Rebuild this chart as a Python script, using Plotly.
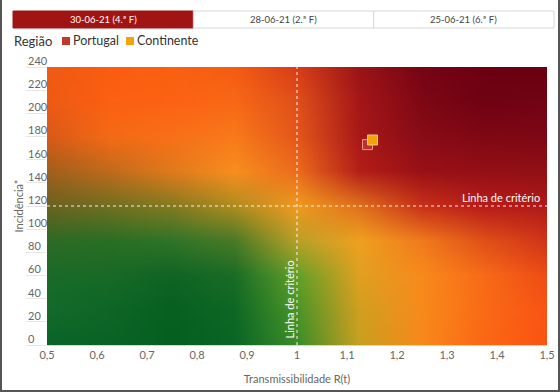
import base64
import struct
import zlib

import plotly.graph_objects as go

# ---------------- data ----------------
SERIES = ["Portugal", "Continente"]
RT = [1.141, 1.151]
INCIDENCIA = [173, 177]
SERIES_COLORS = ["rgba(200,55,55,0.75)", "#f0a30a"]
SERIES_LINE = ["rgba(245,160,160,0.9)", "rgba(255,215,140,0.9)"]
LEGEND_COLORS = ["#c0392b", "#f0a30a"]
LEGEND_TITLE = "Região"

TABS = ["30-06-21 (4.ª F)", "28-06-21 (2.ª F)", "25-06-21 (6.ª F)"]
ACTIVE_TAB = 0

CRITERIO_RT = 1.0
CRITERIO_INC = 120

X_TICKS = [0.5, 0.6, 0.7, 0.8, 0.9, 1.0, 1.1, 1.2, 1.3, 1.4, 1.5]
X_TICK_LABELS = ["0,5", "0,6", "0,7", "0,8", "0,9", "1", "1,1", "1,2", "1,3", "1,4", "1,5"]
Y_TICKS = [0, 20, 40, 60, 80, 100, 120, 140, 160, 180, 200, 220, 240]
Y_TICK_LABELS = [str(v) for v in Y_TICKS]

# background risk gradient (style only): colours sampled on a 9x9 grid,
# columns R = 0.5 .. 1.5 (step 0.125), rows incidence 240 .. 0 (step 30)
BG_COLORS = [
    ["f05a12", "fa5c10", "fa6010", "f45c12", "d83c18", "9a1416", "760414", "6c0012", "6a0010"],
    ["ee5a14", "fc6012", "fd6214", "f86816", "e0501a", "a41618", "7e0814", "700212", "720414"],
    ["d85a18", "f46a16", "f87018", "f87a1a", "e4561a", "a81818", "880c16", "800814", "7e0814"],
    ["a0601c", "c06a1c", "e07a1c", "f88e1e", "ec6c1c", "b41e18", "9a1016", "941016", "921016"],
    ["6a6220", "707020", "847a20", "b08c20", "f09a20", "e0701c", "c83018", "b81c18", "b01a18"],
    ["2e6a26", "2a6e24", "307428", "4a7a26", "b8a028", "f0a020", "f07a1c", "e05018", "d03418"],
    ["1a6a28", "186a26", "106424", "1a6c26", "60a028", "e0a020", "f88a1c", "f86a18", "ee4c14"],
    ["146a28", "0e6626", "066020", "0e6824", "4a9428", "d0a020", "f88a1a", "fa6a16", "f85414"],
    ["0a6428", "0a6226", "056020", "0a6624", "3a8c28", "c8a020", "f8881a", "fc6614", "fa5412"],
]
X_MIN, X_MAX = 0.5, 1.5
Y_MIN, Y_MAX = 0, 240
BG_SMOOTH = 8  # sub-steps per grid cell for the background texture


def smooth_texture(rows, k):
    """Blend the colour grid into a finer texture (avoids browser banding)."""
    grid = [[tuple(bytes.fromhex(c)) for c in row] for row in rows]
    nr, nc = len(grid), len(grid[0])
    out = []
    for i in range((nr - 1) * k + 1):
        r0 = min(i // k, nr - 2)
        fy = i / k - r0
        line = []
        for j in range((nc - 1) * k + 1):
            c0 = min(j // k, nc - 2)
            fx = j / k - c0
            px = []
            for ch in range(3):
                a = grid[r0][c0][ch] * (1 - fx) + grid[r0][c0 + 1][ch] * fx
                b = grid[r0 + 1][c0][ch] * (1 - fx) + grid[r0 + 1][c0 + 1][ch] * fx
                px.append(int(round(a * (1 - fy) + b * fy)))
            line.append(bytes(px))
        out.append(line)
    return out


def png_uri(pixels):
    h = len(pixels)
    w = len(pixels[0])
    raw = b"".join(b"\x00" + b"".join(row) for row in pixels)

    def chunk(tag, data):
        return (struct.pack(">I", len(data)) + tag + data
                + struct.pack(">I", zlib.crc32(tag + data) & 0xFFFFFFFF))

    png = (b"\x89PNG\r\n\x1a\n"
           + chunk(b"IHDR", struct.pack(">IIBBBBB", w, h, 8, 2, 0, 0, 0))
           + chunk(b"IDAT", zlib.compress(raw, 9))
           + chunk(b"IEND", b""))
    return "data:image/png;base64," + base64.b64encode(png).decode()


# ---------------- layout geometry ----------------
WIDTH, HEIGHT = 560, 392
ML, MR, MT, MB = 47, 13, 67, 47
PW = WIDTH - ML - MR
PH = HEIGHT - MT - MB


def px_x(px):
    return (px - ML) / PW


def px_y(py):
    return (HEIGHT - MB - py) / PH


FONT = "Lato, 'Open Sans', sans-serif"

fig = go.Figure()

for name, x, y, c, lc in zip(SERIES, RT, INCIDENCIA, SERIES_COLORS, SERIES_LINE):
    fig.add_trace(go.Scatter(
        x=[x], y=[y], mode="markers", name=name,
        marker=dict(symbol="square", size=10, color=c, line=dict(color=lc, width=1)),
        hovertemplate=name + "<br>R(t): %{x}<br>Incidência: %{y}<extra></extra>",
    ))

# background gradient image, pixel centres on the grid points
tex = smooth_texture(BG_COLORS, BG_SMOOTH)
ncol = len(tex[0])
nrow = len(tex)
dx = (X_MAX - X_MIN) / (ncol - 1)
dy = (Y_MAX - Y_MIN) / (nrow - 1)
fig.add_layout_image(dict(
    source=png_uri(tex), xref="x", yref="y",
    x=X_MIN - dx / 2, y=Y_MAX + dy / 2,
    sizex=(X_MAX - X_MIN) + dx, sizey=(Y_MAX - Y_MIN) + dy,
    sizing="stretch", layer="below", xanchor="left", yanchor="top",
))

shapes = []
annotations = []

# criterion lines
shapes.append(dict(type="line", xref="x", yref="y", x0=CRITERIO_RT, x1=CRITERIO_RT,
                   y0=Y_MIN, y1=Y_MAX, line=dict(color="rgba(255,255,255,0.9)", width=1, dash="dot")))
shapes.append(dict(type="line", xref="x", yref="y", x0=X_MIN, x1=X_MAX,
                   y0=CRITERIO_INC, y1=CRITERIO_INC,
                   line=dict(color="rgba(255,255,255,0.9)", width=1, dash="dot")))
annotations.append(dict(text="Linha de critério", xref="paper", yref="y", x=px_x(542),
                        y=CRITERIO_INC, xanchor="right", yanchor="bottom", showarrow=False,
                        font=dict(family=FONT, size=11, color="white")))
annotations.append(dict(text="Linha de critério", xref="x", yref="paper", x=CRITERIO_RT,
                        y=px_y(341), xanchor="right", yanchor="bottom", showarrow=False,
                        textangle=-90, font=dict(family=FONT, size=11, color="white")))

# tabs
tab_x0, tab_x1, tab_y0, tab_y1 = 13, 554, 11, 28
tw = (tab_x1 - tab_x0) / len(TABS)
for i, t in enumerate(TABS):
    a, b = tab_x0 + i * tw, tab_x0 + (i + 1) * tw
    active = i == ACTIVE_TAB
    shapes.append(dict(type="rect", xref="paper", yref="paper",
                       x0=px_x(a), x1=px_x(b), y0=px_y(tab_y1), y1=px_y(tab_y0),
                       fillcolor="#a11414" if active else "white",
                       line=dict(color="#a11414" if active else "#d8d8d8", width=1)))
    annotations.append(dict(text=t, xref="paper", yref="paper", x=px_x((a + b) / 2),
                            y=px_y((tab_y0 + tab_y1) / 2), showarrow=False,
                            xanchor="center", yanchor="middle",
                            font=dict(family=FONT, size=9.5, color="white" if active else "#444")))

# manual legend row (Highcharts style)
LEG_Y = 41
annotations.append(dict(text=LEGEND_TITLE, xref="paper", yref="paper", x=px_x(12), y=px_y(LEG_Y),
                        xanchor="left", yanchor="middle", showarrow=False,
                        font=dict(family=FONT, size=13, color="#333")))
legend_pos = [(62, 71), (126, 135)]
for name, col, (sx, tx) in zip(SERIES, LEGEND_COLORS, legend_pos):
    shapes.append(dict(type="rect", xref="paper", yref="paper",
                       x0=px_x(sx), x1=px_x(sx + 8), y0=px_y(LEG_Y + 4), y1=px_y(LEG_Y - 4),
                       fillcolor=col, line=dict(width=0)))
    annotations.append(dict(text=name, xref="paper", yref="paper", x=px_x(tx), y=px_y(LEG_Y),
                            xanchor="left", yanchor="middle", showarrow=False,
                            font=dict(family=FONT, size=12.5, color="#333")))

# frame border of the widget
for (x0, y0, x1, y1) in [(1, 0, 1, 391), (559, 0, 559, 391), (0, 391, 560, 391)]:
    shapes.append(dict(type="line", xref="paper", yref="paper", x0=px_x(x0), x1=px_x(x1),
                       y0=px_y(y0), y1=px_y(y1), line=dict(color="#555", width=2)))

fig.update_layout(
    width=WIDTH, height=HEIGHT,
    margin=dict(l=ML, r=MR, t=MT, b=MB, autoexpand=False),
    paper_bgcolor="white", plot_bgcolor="white",
    font=dict(family=FONT, color="#666"),
    shapes=shapes, annotations=annotations,
    showlegend=False,
    xaxis=dict(range=[X_MIN, X_MAX], tickvals=X_TICKS, ticktext=X_TICK_LABELS,
               showgrid=False, zeroline=False, showline=True, linecolor="#ccd6eb",
               automargin=False, ticklabeloverflow="allow",
               tickfont=dict(family=FONT, size=11, color="#666"),
               title=dict(text="Transmissibilidade R(t)", standoff=15,
                          font=dict(family=FONT, size=11, color="#666")),
               fixedrange=True),
    yaxis=dict(range=[Y_MIN, Y_MAX], tickvals=Y_TICKS, ticktext=Y_TICK_LABELS,
               showgrid=False, zeroline=False, showline=False, automargin=False,
               ticks="outside", ticklen=20, tickcolor="#e6e6e6", tickwidth=1,
               ticklabelposition="inside", ticklabelstandoff=-22, ticklabelshift=-6,
               ticklabeloverflow="allow",
               tickfont=dict(family=FONT, size=11, color="#666"),
               title=dict(text="Incidência*", standoff=2,
                          font=dict(family=FONT, size=11, color="#666")),
               fixedrange=True),
)

fig.write_html("out.html", config={"displayModeBar": False},
               post_script="document.body.style.margin='0';")
